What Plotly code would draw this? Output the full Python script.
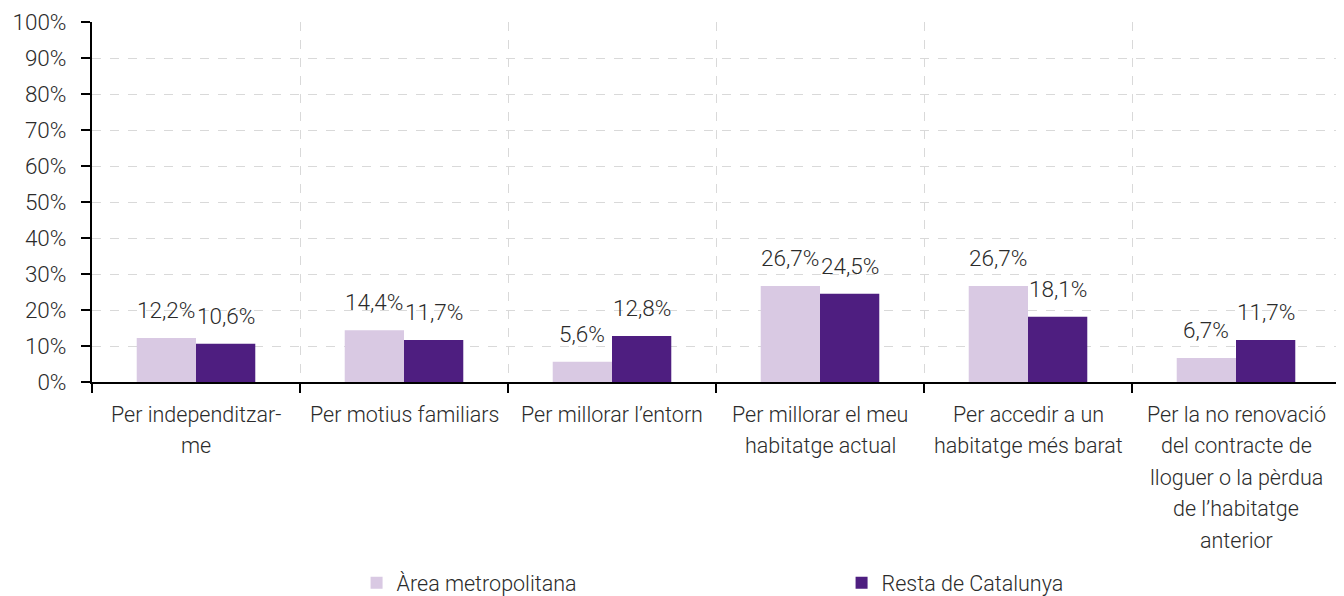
import plotly.graph_objects as go

categories = [
    "Per independitzar-<br>me",
    "Per motius familiars",
    "Per millorar l\u2019entorn",
    "Per millorar el meu<br>habitatge actual",
    "Per accedir a un<br>habitatge m\u00e9s barat",
    "Per la no renovaci\u00f3<br>del contracte de<br>lloguer o la p\u00e8rdua<br>de l\u2019habitatge<br>anterior",
]
series_names = ["\u00c0rea metropolitana", "Resta de Catalunya"]
area_metropolitana = [12.2, 14.4, 5.6, 26.7, 26.7, 6.7]
resta_catalunya = [10.6, 11.7, 12.8, 24.5, 18.1, 11.7]
y_ticks = list(range(0, 101, 10))
y_tick_labels = [f"{v}%" for v in y_ticks]

colors = ["#d9c9e3", "#4e1e80"]
FONT = "Roboto, sans-serif"
TXT = "#2b2b2b"
FS_TXT = 21.5
FS_NUM = 22.5
W = 300

fig = go.Figure()
for name, vals, col in zip(series_names, [area_metropolitana, resta_catalunya], colors):
    fig.add_trace(go.Bar(name=name, x=categories, y=vals, marker=dict(color=col, line=dict(width=0))))

# data labels
for vals, shift in [(area_metropolitana, -30), (resta_catalunya, 30)]:
    for c, v in zip(categories, vals):
        fig.add_annotation(x=c, y=v, text=f"{v:.1f}".replace(".", ",") + "%",
                           showarrow=False, xshift=shift, yshift=13, yanchor="bottom",
                           font=dict(size=FS_NUM, color=TXT, family=FONT, weight=W))

# category labels, one annotation per line
for c in categories:
    for i, line in enumerate(c.split("<br>")):
        fig.add_annotation(x=c, xref="x", y=0, yref="paper", text=line, showarrow=False,
                           yanchor="middle", yshift=-(32 + 31.5 * i),
                           font=dict(size=FS_TXT, color=TXT, family=FONT, weight=W))

fig.update_layout(
    width=1336, height=588,
    margin=dict(l=84, r=4, t=14, b=214, autoexpand=False),
    plot_bgcolor="white", paper_bgcolor="white",
    barmode="group", bargap=0.43, bargroupgap=0,
    font=dict(family=FONT, size=FS_TXT, color=TXT, weight=W),
    showlegend=True,
    legend=dict(orientation="h", x=0.212, xanchor="left", y=-0.558, yanchor="middle",
                entrywidth=440, entrywidthmode="pixels",
                font=dict(size=FS_TXT, color=TXT, family=FONT, weight=W),
                itemwidth=30, traceorder="normal"),
)
fig.update_yaxes(range=[0, 100], tickvals=y_ticks, ticktext=y_tick_labels, automargin=False,
                 showline=True, linecolor="black", linewidth=2,
                 ticks="outside", ticklen=9, tickwidth=2, tickcolor="black",
                 showgrid=True, gridcolor="#d9d9d9", griddash="dash", gridwidth=1,
                 zeroline=False, ticklabelstandoff=10,
                 tickfont=dict(size=FS_NUM, color=TXT, family=FONT, weight=W))
fig.update_xaxes(showline=True, linecolor="black", linewidth=2, automargin=False,
                 ticks="outside", ticklen=9, tickwidth=2, tickcolor="black",
                 tickson="boundaries", showgrid=True, gridcolor="#d9d9d9", griddash="dash",
                 gridwidth=1, showticklabels=False)

fig.write_html("out.html")
